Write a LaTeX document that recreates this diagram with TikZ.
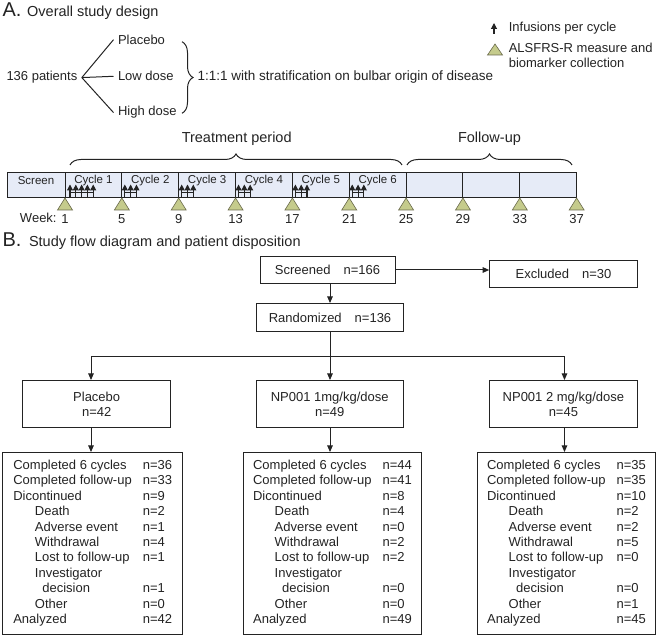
\documentclass[tikz,border=0pt]{standalone}
\usepackage{fontspec}
\setmainfont{Liberation Sans}
\usetikzlibrary{arrows.meta,decorations.pathreplacing,positioning}

\definecolor{ink}{RGB}{35,35,35}
\definecolor{barfill}{RGB}{230,235,247}
\definecolor{trifill}{RGB}{197,203,140}
\definecolor{tridraw}{RGB}{105,105,75}

\newcommand{\lvone}{\hspace*{21.6pt}}
\newcommand{\lvtwo}{\hspace*{29pt}}

\begin{document}
\begin{tikzpicture}[x=1pt, y=-1pt, line width=1pt, color=ink,
                    lbl/.style = {inner sep=0pt, font=\fontsize{13}{14.3}\selectfont},
                    cyc/.style = {inner sep=0pt, font=\fontsize{11.5}{12}\selectfont},
                    box/.style = {draw, inner sep=0pt, align=center, font=\fontsize{13}{15}\selectfont},
                    outbox/.style = {draw, inner sep=0pt, minimum height=182pt, font=\fontsize{13}{15.4}\selectfont},
                    arr/.style = {-{Triangle[width=5.5pt,length=6.5pt]}},
                    inf/.style = {-{Triangle[width=6pt,length=6pt]}, line width=1.1pt},
                    tri/.style = {draw=tridraw, fill=trifill, line width=0.6pt},
                    brc/.style = {decorate, decoration={brace, amplitude=#1}}]
      \useasboundingbox (0,0) rectangle (657,636);

      % A. overall design
      \node [anchor=base west, inner sep=0pt, font=\fontsize{20}{20}\selectfont] (alab) at (2,17) {A.};
      \node [anchor=base west, inner sep=0pt, font=\fontsize{14.5}{16}\selectfont] (atitle) at (26.7,17) {Overall study design};

      \node [lbl, anchor=mid west, inner xsep=4pt] (pat) at (2,78.3) {136 patients};
      \node [lbl, anchor=mid west, inner xsep=4pt] (plc) at (113.5,41.7) {Placebo};
      \node [lbl, anchor=mid west, inner xsep=4pt] (lowd) at (113.5,78.3) {Low dose};
      \node [lbl, anchor=mid west, inner xsep=4pt] (highd) at (113.5,113.3) {High dose};
      \draw (pat.east) -- (plc.west);
      \draw (pat.east) -- (lowd.west);
      \draw (pat.east) -- (highd.west);
      \draw [brc=11] (182,41.7) -- (182,113.3);
      \node [lbl, anchor=mid west, font=\fontsize{13.5}{15}\selectfont] (strat) at (197,78.3) {1:1:1 with stratification on bulbar origin of disease};

      % legend
      \coordinate (legtail) at (494,34);
      \coordinate (leghead) at (494,23);
      \draw [inf] (legtail) -- (leghead);
      \node [lbl, anchor=mid west] (leginf) at (508.3,29.3) {Infusions per cycle};
      \draw [tri] (495,44) -- ++(7.5,11) -- ++(-15,0) -- cycle;
      \node [lbl, anchor=west, align=left] (legtri) at (508.3,55.5) {ALSFRS-R measure and\\biomarker collection};

      % timeline
      \node [lbl, font=\fontsize{14.5}{16}\selectfont] (treat) at (236.7,138.3) {Treatment period};
      \node [lbl, font=\fontsize{14.5}{16}\selectfont] (follow) at (489.5,138.3) {Follow-up};
      \draw [brc=11] (70,165) -- (402,165);
      \draw [brc=11] (407,165) -- (572,165);

      \draw [fill=barfill] (7,172.7) rectangle (576.7,198);
      \foreach \i in {0,...,8}
        \draw ({65+56.85*\i},172.7) -- ({65+56.85*\i},198);
      \node [cyc] (screen) at (36,180.7) {Screen};
      \foreach \i in {1,...,6}
        \node [cyc] (cyc\i) at ({65+56.85*(\i-0.5)},180.7) {Cycle \i};

      \foreach \j in {0,...,4}
        \draw [inf] ({70+5.8*\j},197) -- ++(0,-12.5);
      \draw (70,193) -- (93.2,193);
      \foreach \c in {1,...,5} {
        \foreach \j in {0,1,2}
          \draw [inf] ({68+56.85*\c+5.8*\j},197) -- ++(0,-12.5);
        \draw ({68+56.85*\c},193) -- ++(11.6,0);
      }

      \node [lbl] (week) at (38.3,218.3) {Week:};
      \foreach \w [count=\i from 0] in {1,5,...,37} {
        \draw [tri] ({65+56.85*\i},198) -- ++(7.5,12) -- ++(-15,0) -- cycle;
        \node [lbl] (wk\w) at ({65+56.85*\i},219) {\w};
      }

      % B. flow diagram
      \node [anchor=base west, inner sep=0pt, font=\fontsize{20}{20}\selectfont] (blab) at (2,247) {B.};
      \node [anchor=base west, inner sep=0pt, font=\fontsize{14.5}{16}\selectfont] (btitle) at (28.5,247) {Study flow diagram and patient disposition};

      \node [box, minimum width=135pt, minimum height=27pt] (scr) at (327.5,270) {Screened\quad n=166};
      \node [box, minimum width=147.6pt, minimum height=27pt] (exc) at (563.5,274) {Excluded\quad n=30};
      \node [box, minimum width=147pt, minimum height=28pt] (rand) at (330,317.5) {Randomized\quad n=136};

      \draw [arr] (scr.east) -- (scr.east -| exc.west);
      \draw [arr] (scr.south -| rand.north) -- (rand.north);

      \node [box, minimum width=148pt, minimum height=47pt] (pbo) at (96.7,404) {Placebo\\n=42};
      \node [box, minimum width=147.3pt, minimum height=47pt] (low) at (329.7,404) {NP001 1mg/kg/dose\\n=49};
      \node [box, minimum width=147.3pt, minimum height=47pt] (high) at (563.4,404) {NP001 2 mg/kg/dose\\n=45};

      \coordinate (split) at (330,357);
      \coordinate (colL) at (91,357);
      \coordinate (colR) at (564.5,357);
      \draw (rand.south) -- (split);
      \draw (colL) -- (colR);
      \draw [arr] (colL) -- (colL |- pbo.north);
      \draw [arr] (split) -- (split |- low.north);
      \draw [arr] (colR) -- (colR |- high.north);

      \node [outbox, minimum width=180pt, anchor=north] (outL) at (92.7,452) {%
        \begin{tabular}{@{}p{129.5pt}@{}l@{}}
        Completed 6 cycles & n=36\\
        Completed follow-up & n=33\\
        Dicontinued & n=9\\
        \lvone Death & n=2\\
        \lvone Adverse event & n=1\\
        \lvone Withdrawal & n=4\\
        \lvone Lost to follow-up & n=1\\
        \lvone Investigator & \\
        \lvtwo decision & n=1\\
        \lvone Other & n=0\\
        Analyzed & n=42
        \end{tabular}};
      \node [outbox, minimum width=178.4pt, anchor=north] (outM) at (332.5,452) {%
        \begin{tabular}{@{}p{129.5pt}@{}l@{}}
        Completed 6 cycles & n=44\\
        Completed follow-up & n=41\\
        Dicontinued & n=8\\
        \lvone Death & n=4\\
        \lvone Adverse event & n=0\\
        \lvone Withdrawal & n=2\\
        \lvone Lost to follow-up & n=2\\
        \lvone Investigator & \\
        \lvtwo decision & n=0\\
        \lvone Other & n=0\\
        Analyzed & n=49
        \end{tabular}};
      \node [outbox, minimum width=177.6pt, anchor=north] (outR) at (566.5,452) {%
        \begin{tabular}{@{}p{129.5pt}@{}l@{}}
        Completed 6 cycles & n=35\\
        Completed follow-up & n=35\\
        Dicontinued & n=10\\
        \lvone Death & n=2\\
        \lvone Adverse event & n=2\\
        \lvone Withdrawal & n=5\\
        \lvone Lost to follow-up & n=0\\
        \lvone Investigator & \\
        \lvtwo decision & n=0\\
        \lvone Other & n=1\\
        Analyzed & n=45
        \end{tabular}};

      \draw [arr] (colL |- pbo.south) -- (colL |- outL.north);
      \draw [arr] (split |- low.south) -- (split |- outM.north);
      \draw [arr] (colR |- high.south) -- (colR |- outR.north);

      \end{tikzpicture}
\end{document}
